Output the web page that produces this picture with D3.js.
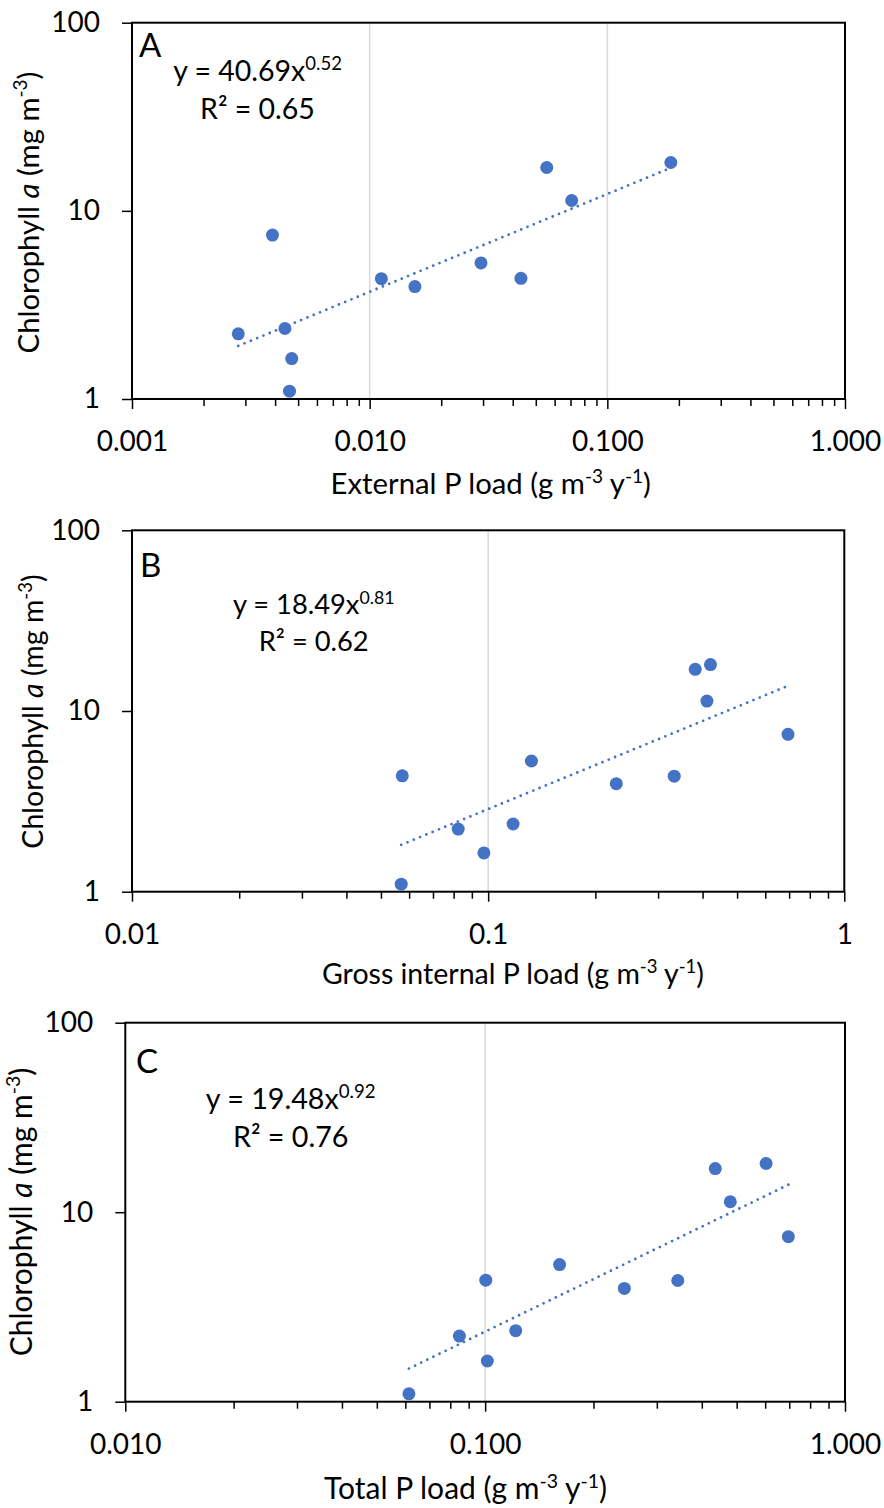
<!DOCTYPE html>
<html>
<head>
<meta charset="utf-8">
<script src="https://cdn.jsdelivr.net/npm/d3@7"></script>
<style>
  body { margin: 0; background: #fff; }
  svg text { font-family: Lato, "Open Sans", sans-serif; fill: #000; }
</style>
</head>
<body>
<svg id="chart" width="884" height="1508"></svg>
<script>
// Twelve lakes, same order in every array
const chlorophyll  = [7.43, 2.22, 2.37, 1.64, 1.10, 4.36, 3.96, 5.29, 4.38, 17.0, 11.35, 18.07];
const externalLoad = [0.0039, 0.0028, 0.0044, 0.0047, 0.0046, 0.0112, 0.0155, 0.0294, 0.0433, 0.0556, 0.0708, 0.185];
const internalLoad = [0.695, 0.0824, 0.1175, 0.0973, 0.0570, 0.333, 0.229, 0.1323, 0.0574, 0.3815, 0.4114, 0.421];
const totalLoad    = [0.696, 0.0848, 0.1216, 0.1014, 0.0614, 0.343, 0.2437, 0.161, 0.1004, 0.436, 0.480, 0.6035];

// Power-law trendlines y = a * x^b
const fitCoef = ["40.69", "18.49", "19.48"];
const fitExp  = ["0.52", "0.81", "0.92"];
const fitR2   = ["0.65", "0.62", "0.76"];

const panelLetters = ["A", "B", "C"];
const xTitles = ["External P load", "Gross internal P load", "Total P load"];
const xDomains = [[0.001, 1], [0.01, 1], [0.01, 1]];
const xTickValues = [[0.001, 0.01, 0.1, 1], [0.01, 0.1, 1], [0.01, 0.1, 1]];
const xTickLabels = [["0.001", "0.010", "0.100", "1.000"], ["0.01", "0.1", "1"], ["0.010", "0.100", "1.000"]];
const yDomain = [1, 100];
const yTickValues = [1, 10, 100];
const yTickLabels = ["1", "10", "100"];
const xSeries = [externalLoad, internalLoad, totalLoad];

// Panel geometry and text sizes
const frames = [
  { left: 132,   right: 845,   top: 22.7,   bottom: 399,
    letter: [139, 57], eq: [257.5, 81, 119], xTitle: [490.7, 494], yTitle: [38.5, 212.5],
    titleSize: 29.3, eqSize: 28.5 },
  { left: 132,   right: 844.3, top: 530.3,  bottom: 891.7,
    letter: [140, 577], eq: [313.7, 614.3, 650.7], xTitle: [513, 984.3], yTitle: [42.7, 711.5],
    titleSize: 28.5, eqSize: 27.3 },
  { left: 125.3, right: 845,   top: 1022.7, bottom: 1401.7,
    letter: [136, 1073], eq: [290.7, 1109, 1147.3], xTitle: [465.5, 1499], yTitle: [31.7, 1212],
    titleSize: 30, eqSize: 28.7 }
];

const blue = "#4472C4";
const tickFont = 28, letterFont = 33;

const svg = d3.select("#chart");

// Append text runs, with superscript / italic pieces
function rich(sel, parts, size) {
  let raised = false;
  const lift = size * 0.38;
  parts.forEach(p => {
    const ts = sel.append("tspan").text(p.t);
    if (p.sup) {
      ts.attr("font-size", size * 0.65).attr("dy", raised ? 0 : -lift);
      raised = true;
    } else {
      if (raised) ts.attr("dy", lift);
      raised = false;
    }
    if (p.it) ts.attr("font-style", "italic");
  });
}

frames.forEach((f, i) => {
  const x = d3.scaleLog().domain(xDomains[i]).range([f.left, f.right]);
  const y = d3.scaleLog().domain(yDomain).range([f.bottom, f.top]);
  const g = svg.append("g");

  // vertical gridlines at inner decades
  g.selectAll("line.grid")
    .data(xTickValues[i].filter(v => v > xDomains[i][0] && v < xDomains[i][1]))
    .join("line")
    .attr("x1", d => x(d)).attr("x2", d => x(d))
    .attr("y1", f.top).attr("y2", f.bottom)
    .attr("stroke", "#d9d9d9").attr("stroke-width", 1.5);

  // minor x ticks (2..9 of each decade)
  const minors = [];
  for (let d = xDomains[i][0]; d < xDomains[i][1] * 0.999; d *= 10) {
    for (let k = 2; k <= 9; k++) minors.push(k * d);
  }
  const minorAxis = g.append("g")
    .attr("transform", `translate(0,${f.bottom})`)
    .call(d3.axisBottom(x).tickValues(minors).tickSize(7).tickSizeOuter(0).tickFormat(""));
  minorAxis.select(".domain").remove();
  minorAxis.selectAll("line").attr("stroke", "#000").attr("stroke-width", 1.5);

  // major x ticks and labels
  const xAxis = g.append("g")
    .attr("transform", `translate(0,${f.bottom})`)
    .call(d3.axisBottom(x).tickValues(xTickValues[i]).tickSize(10).tickSizeOuter(0)
      .tickPadding(22).tickFormat((d, j) => xTickLabels[i][j]));
  xAxis.select(".domain").remove();
  xAxis.selectAll("line").attr("stroke", "#000").attr("stroke-width", 1.5);
  xAxis.selectAll("text").attr("font-size", tickFont).attr("font-family", null);

  // y ticks and labels
  const yAxis = g.append("g")
    .attr("transform", `translate(${f.left},0)`)
    .call(d3.axisLeft(y).tickValues(yTickValues).tickSize(10).tickSizeOuter(0)
      .tickPadding(22).tickFormat((d, j) => yTickLabels[j]));
  yAxis.select(".domain").remove();
  yAxis.selectAll("line").attr("stroke", "#000").attr("stroke-width", 1.5);
  yAxis.selectAll("text").attr("font-size", tickFont).attr("font-family", null);

  // plot frame
  g.append("rect")
    .attr("x", f.left).attr("y", f.top)
    .attr("width", f.right - f.left).attr("height", f.bottom - f.top)
    .attr("fill", "none").attr("stroke", "#000").attr("stroke-width", 2);

  // data points
  const pts = xSeries[i].map((v, j) => [v, chlorophyll[j]]);
  g.selectAll("circle")
    .data(pts)
    .join("circle")
    .attr("cx", d => x(d[0])).attr("cy", d => y(d[1]))
    .attr("r", 6.5).attr("fill", blue);

  // trendline across the data range
  const a = +fitCoef[i], b = +fitExp[i];
  const [xmin, xmax] = d3.extent(xSeries[i]);
  const trend = [xmin, xmax].map(v => [v, a * Math.pow(v, b)]);
  g.append("path")
    .attr("d", d3.line().x(d => x(d[0])).y(d => y(d[1]))(trend))
    .attr("fill", "none").attr("stroke", blue).attr("stroke-width", 2.8)
    .attr("stroke-linecap", "round").attr("stroke-dasharray", "0 6.8");

  // panel letter
  g.append("text")
    .attr("x", f.letter[0]).attr("y", f.letter[1])
    .attr("font-size", letterFont).text(panelLetters[i]);

  // equation and R²
  const eq = g.append("text")
    .attr("x", f.eq[0]).attr("y", f.eq[1])
    .attr("text-anchor", "middle").attr("font-size", f.eqSize);
  rich(eq, [{ t: `y = ${fitCoef[i]}x` }, { t: fitExp[i], sup: true }], f.eqSize);
  g.append("text")
    .attr("x", f.eq[0]).attr("y", f.eq[2])
    .attr("text-anchor", "middle").attr("font-size", f.eqSize)
    .text(`R² = ${fitR2[i]}`);

  // x axis title
  const xt = g.append("text")
    .attr("x", f.xTitle[0]).attr("y", f.xTitle[1])
    .attr("text-anchor", "middle").attr("font-size", f.titleSize);
  rich(xt, [{ t: `${xTitles[i]} (g m` }, { t: "-3", sup: true }, { t: " y" }, { t: "-1", sup: true }, { t: ")" }], f.titleSize);

  // y axis title
  const yt = g.append("text")
    .attr("transform", `translate(${f.yTitle[0]},${f.yTitle[1]}) rotate(-90)`)
    .attr("text-anchor", "middle").attr("font-size", f.titleSize);
  rich(yt, [{ t: "Chlorophyll " }, { t: "a", it: true }, { t: " (mg m" }, { t: "-3", sup: true }, { t: ")" }], f.titleSize);
});
</script>
</body>
</html>
